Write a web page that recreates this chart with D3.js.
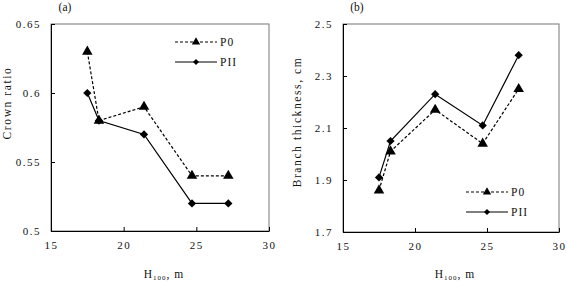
<!DOCTYPE html>
<html>
<head>
<meta charset="utf-8">
<script src="https://cdn.jsdelivr.net/npm/d3@7"></script>
<style>
  body { margin: 0; background: #fff; }
  svg { display: block; }
  text { font-family: "Liberation Serif", "DejaVu Serif", serif; fill: #111; }
</style>
</head>
<body>
<div id="chart"></div>
<script>
// Data
const heights = [17.5, 18.3, 21.4, 24.7, 27.2];
const crownP0 = [0.63, 0.58, 0.59, 0.54, 0.54];
const crownPII = [0.60, 0.58, 0.57, 0.52, 0.52];
const branchP0 = [1.86, 2.01, 2.17, 2.04, 2.25];
const branchPII = [1.91, 2.05, 2.23, 2.11, 2.38];
const xTicks = [15, 20, 25, 30];
const crownTicks = [0.5, 0.55, 0.6, 0.65];
const branchTicks = [1.7, 1.9, 2.1, 2.3, 2.5];
const seriesNames = ['P0', 'PII'];

const svg = d3.select('#chart')
    .append('svg')
    .attr('width', 567)
    .attr('height', 282);

// Panel (a)
drawPanel({
    left: 51, top: 24, width: 218, height: 207,
    yDomain: [0.5, 0.65], yTicks: crownTicks,
    p0: crownP0, pii: crownPII,
    yTitle: 'Crown ratio', yTitleX: 7, yTitleY: 103,
    tag: '(a)', legendX: 175, legendY: 42
});

// Panel (b)
drawPanel({
    left: 343, top: 24, width: 216, height: 208,
    yDomain: [1.7, 2.5], yTicks: branchTicks,
    p0: branchP0, pii: branchPII,
    yTitle: 'Branch thickness, cm', yTitleX: 297, yTitleY: 122,
    tag: '(b)', legendX: 466, legendY: 192
});

// diamond = square turned 45 degrees
function diamond(size) {
    return d3.symbol(d3.symbolSquare, size)();
}

function drawPanel(o) {
    const g = svg.append('g')
        .attr('transform', 'translate(' + o.left + ',' + o.top + ')');

    const x = d3.scaleLinear().domain([15, 30]).range([0, o.width]);
    const y = d3.scaleLinear().domain(o.yDomain).range([o.height, 0]);

    // frame
    g.append('rect')
        .attr('width', o.width)
        .attr('height', o.height)
        .attr('fill', 'none')
        .attr('stroke', '#777')
        .attr('stroke-width', 1);

    // axes, ticks pointing inward
    const xAxis = g.append('g')
        .attr('transform', 'translate(0,' + o.height + ')')
        .call(d3.axisBottom(x).tickValues(xTicks).tickSizeInner(-4).tickSizeOuter(0).tickPadding(10));
    const yAxis = g.append('g')
        .call(d3.axisLeft(y).tickValues(o.yTicks).tickFormat(d => String(d))
            .tickSizeInner(-4).tickSizeOuter(0).tickPadding(10));
    [xAxis, yAxis].forEach(a => {
        a.select('.domain').attr('stroke', '#000');
        a.selectAll('.tick line').attr('stroke', '#000');
        a.selectAll('text')
            .attr('font-size', 11)
            .attr('font-family', '"Liberation Serif", serif')
            .attr('letter-spacing', 1.5)
            .attr('fill', '#111');
    });

    const line = d3.line()
        .x((d, i) => x(heights[i]))
        .y(d => y(d));

    // P0 dashed with triangles
    g.append('path')
        .datum(o.p0)
        .attr('d', line)
        .attr('fill', 'none')
        .attr('stroke', '#000')
        .attr('stroke-width', 1.2)
        .attr('stroke-dasharray', '3,2');
    g.selectAll('.tri')
        .data(o.p0)
        .join('path')
        .attr('transform', (d, i) => 'translate(' + x(heights[i]) + ',' + y(d) + ')')
        .attr('d', d3.symbol(d3.symbolTriangle, 48));

    // PII solid with diamonds
    g.append('path')
        .datum(o.pii)
        .attr('d', line)
        .attr('fill', 'none')
        .attr('stroke', '#000')
        .attr('stroke-width', 1.2);
    g.selectAll('.dia')
        .data(o.pii)
        .join('path')
        .attr('transform', (d, i) => 'translate(' + x(heights[i]) + ',' + y(d) + ') rotate(45)')
        .attr('d', diamond(34));

    // legend
    const lg = svg.append('g').attr('transform', 'translate(' + o.legendX + ',' + o.legendY + ')');
    seriesNames.forEach((name, i) => {
        const row = lg.append('g').attr('transform', 'translate(0,' + (i * 20) + ')');
        row.append('line')
            .attr('x1', 0).attr('x2', 42)
            .attr('stroke', '#000')
            .attr('stroke-width', 1.2)
            .attr('stroke-dasharray', i === 0 ? '3,2' : null);
        row.append('path')
            .attr('transform', i === 0 ? 'translate(21,0)' : 'translate(21,0) rotate(45)')
            .attr('d', i === 0 ? d3.symbol(d3.symbolTriangle, 30)() : diamond(18));
        row.append('text')
            .attr('x', 45).attr('y', 4)
            .attr('font-size', 11.5)
            .attr('letter-spacing', 1)
            .text(name);
    });

    // y title
    svg.append('text')
        .attr('transform', 'translate(' + o.yTitleX + ',' + o.yTitleY + ') rotate(-90)')
        .attr('text-anchor', 'middle')
        .attr('dy', '0.35em')
        .attr('font-size', 11.5)
        .attr('letter-spacing', 1.6)
        .attr('fill', '#444')
        .text(o.yTitle);

    // x title with subscript
    const xt = svg.append('text')
        .attr('x', o.left + o.width / 2 + 4)
        .attr('y', 278)
        .attr('text-anchor', 'middle')
        .attr('font-size', 11.5)
        .attr('letter-spacing', 1)
        .attr('fill', '#333');
    xt.append('tspan').text('H');
    xt.append('tspan').attr('font-size', 7).attr('dy', 2).text('100');
    xt.append('tspan').attr('dy', -2).text(',  m');

    // panel tag
    svg.append('text')
        .attr('x', o.left + 14)
        .attr('y', 11)
        .attr('text-anchor', 'middle')
        .attr('font-size', 11.5)
        .text(o.tag);
}
</script>
</body>
</html>
